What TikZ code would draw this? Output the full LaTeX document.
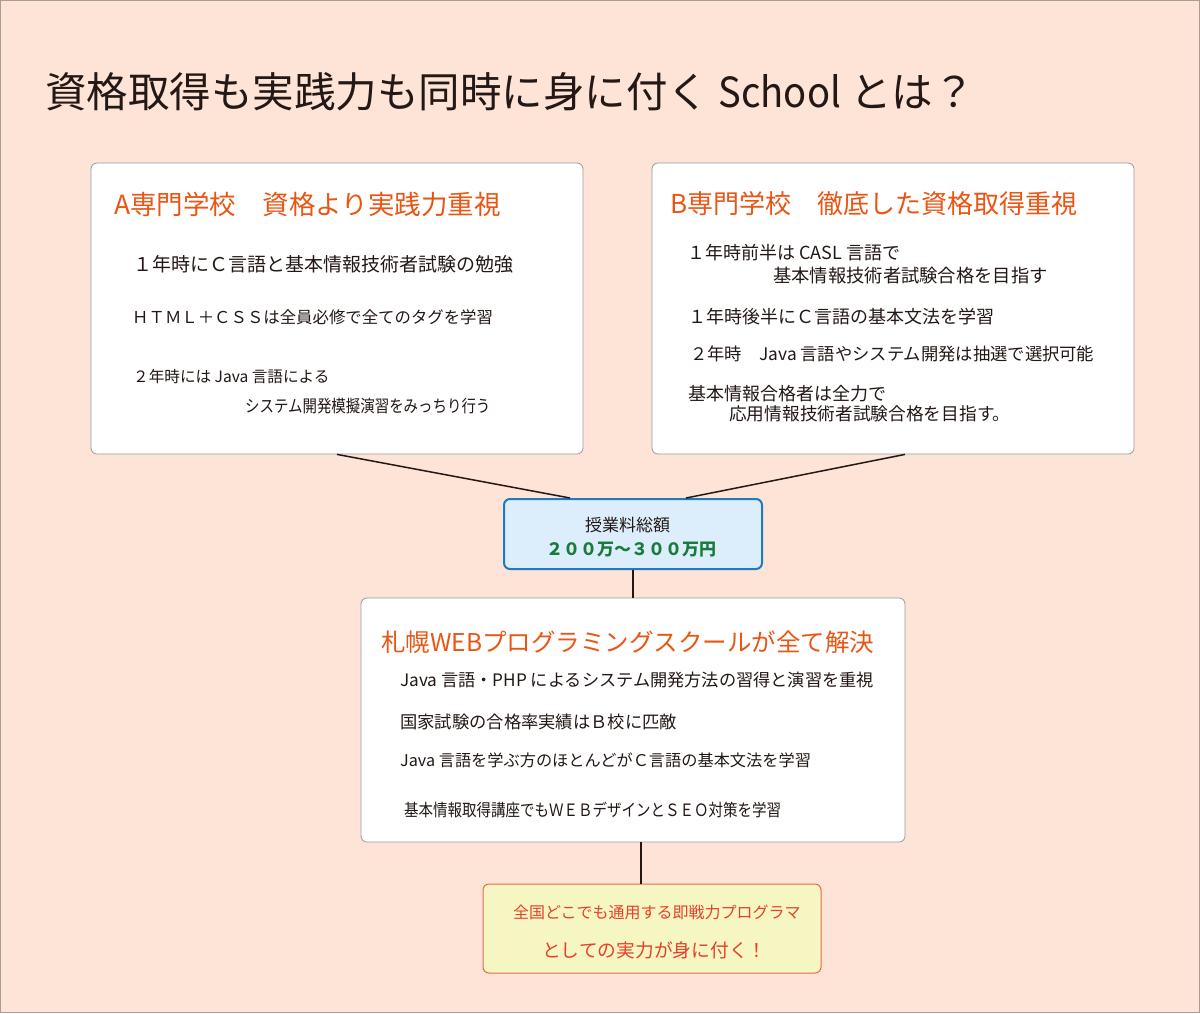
\documentclass[tikz,border=0pt]{standalone}
\usepackage{fontspec}
\setmainfont{Noto Sans CJK JP}
\definecolor{bg}{HTML}{FDE4D6}
\definecolor{frame}{HTML}{A89C94}
\definecolor{ink}{HTML}{231815}
\definecolor{orng}{HTML}{EA5514}
\definecolor{grn}{HTML}{1A7A3C}
\definecolor{bluefill}{HTML}{DCEEFB}
\definecolor{blueline}{HTML}{1B7CC4}
\definecolor{yfill}{HTML}{F5F6C2}
\definecolor{redline}{HTML}{E8694A}
\definecolor{redtxt}{HTML}{E5412B}
\definecolor{boxline}{HTML}{9A9A9A}
\newcommand{\fsz}[1]{\fontsize{#1pt}{#1pt}\selectfont}
\begin{document}
\begin{tikzpicture}[x=1pt,y=-1pt,
  panel/.style={draw=boxline, line width=0.8pt, fill=white, rounded corners=6pt, inner sep=0pt},
  costbox/.style={draw=blueline, line width=2pt, fill=bluefill, rounded corners=6pt, inner sep=0pt},
  resultbox/.style={draw=redline, line width=1pt, fill=yfill, rounded corners=6pt, inner sep=0pt},
  txt/.style={anchor=west, inner sep=0pt, text=ink},
  head/.style={anchor=west, inner sep=0pt, text=orng},
  link/.style={draw=ink, line width=1.5pt}]
% background
\fill[bg] (0,0) rectangle (1200,1013);
\draw[frame, line width=1.2pt] (0.6,0.6) rectangle (1199.4,1012.4);
\useasboundingbox (0,0) rectangle (1200,1013);
% title
\node[txt, font=\fsz{41.5}] (title) at (45,92) {資格取得も実践力も同時に身に付く \scalebox{0.92}[1]{School} とは？};
% boxes
\node[panel, minimum width=492pt, minimum height=291pt] (A) at (337,308.5) {};
\node[panel, minimum width=482pt, minimum height=291pt] (B) at (893,308.5) {};
\node[costbox, minimum width=258pt, minimum height=70pt] (cost) at (633,534) {};
\node[panel, minimum width=544pt, minimum height=244pt] (main) at (633,720) {};
\node[resultbox, minimum width=338pt, minimum height=89pt] (res) at (652,928.5) {};
% connectors
\draw[link] (A.south) -- ([xshift=-63pt]cost.north);
\draw[link] ([xshift=12pt]B.south) -- ([xshift=53pt]cost.north);
\draw[link] (cost.south) -- (main.north);
\draw[link] ([xshift=8pt]main.south) -- ([xshift=8pt]main.south |- res.north);
% box A texts
\node[head, font=\fsz{26.5}] (ah) at (114,204) {A専門学校　資格より実践力重視};
\node[txt, font=\fsz{19}] (a1) at (133,264) {１年時にＣ言語と基本情報技術者試験の勉強};
\node[txt, font=\fsz{16.4}] (a2) at (132,317) {ＨＴＭＬ＋ＣＳＳは全員必修で全てのタグを学習};
\node[txt, font=\fsz{15.6}] (a3) at (133,377) {２年時には Java 言語による};
\node[txt, font=\fsz{17}] (a4) at (245,406) {\scalebox{0.85}[1]{システム開発模擬演習をみっちり行う}};
% box B texts
\node[head, font=\fsz{26}] (bh) at (670,204) {B専門学校　徹底した資格取得重視};
\node[txt, font=\fsz{18}] (b1) at (687,253) {１年時前半は CASL 言語で};
\node[txt, font=\fsz{18.3}] (b2) at (773,276) {基本情報技術者試験合格を目指す};
\node[txt, font=\fsz{18}] (b3) at (688,317) {１年時後半にＣ言語の基本文法を学習};
\node[txt, font=\fsz{17.3}] (b4) at (690,354) {２年時　Java 言語やシステム開発は抽選で選択可能};
\node[txt, font=\fsz{18}] (b5) at (688,394) {基本情報合格者は全力で};
\node[txt, font=\fsz{17.7}] (b6) at (729,414) {応用情報技術者試験合格を目指す。};
% cost texts
\node[txt, font=\fsz{17}] (c1) at (585,525) {授業料総額};
\node[txt, font=\fsz{17}\bfseries, text=grn] (c2) at (546,550) {２００万～３００万円};
% main texts
\node[head, font=\fsz{24.5}] (mh) at (381,642) {札幌WEBプログラミングスクールが全て解決};
\node[txt, font=\fsz{17.2}] (m1) at (400,680) {Java 言語・PHP によるシステム開発方法の習得と演習を重視};
\node[txt, font=\fsz{17.3}] (m2) at (400,722) {国家試験の合格率実績はＢ校に匹敵};
\node[txt, font=\fsz{16.2}] (m3) at (400,760) {Java 言語を学ぶ方のほとんどがＣ言語の基本文法を学習};
\node[txt, font=\fsz{17}] (m4) at (404,810) {\scalebox{0.853}[1]{基本情報取得講座でもＷＥＢデザインとＳＥＯ対策を学習}};
% result texts
\node[txt, font=\fsz{16}, text=redtxt] (r1) at (513,912) {全国どこでも通用する即戦力プログラマ};
\node[txt, font=\fsz{18.75}, text=redtxt] (r2) at (542,950) {としての実力が身に付く！};
\end{tikzpicture}
\end{document}
